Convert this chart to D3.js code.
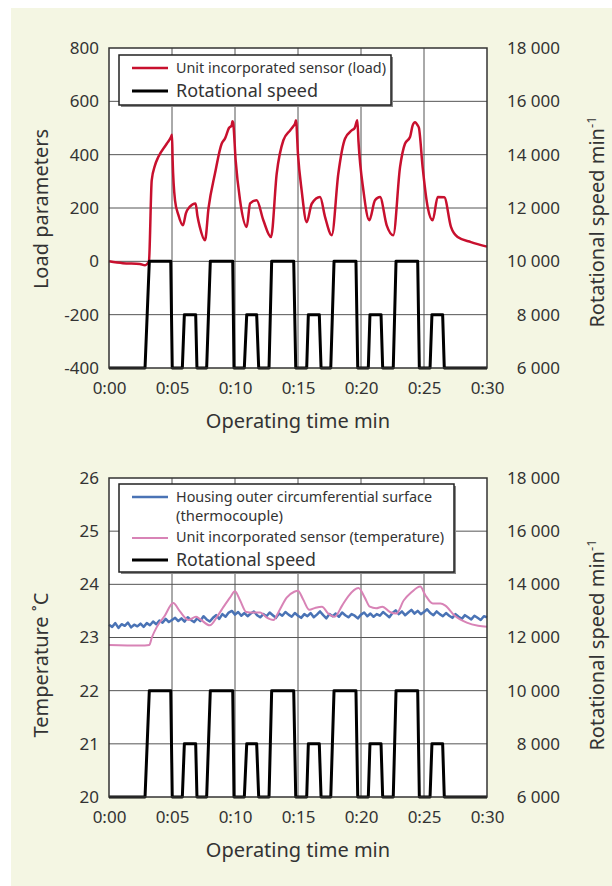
<!DOCTYPE html>
<html>
<head>
<meta charset="utf-8">
<script src="https://cdn.jsdelivr.net/npm/d3@7"></script>
<style>
  body { margin: 0; background: #fff; }
  text { font-family: "Noto Sans", sans-serif; fill: #333; }
</style>
</head>
<body>
<div id="chart"></div>
<script>
// time axis (minutes)
var timeTicks = [0, 5, 10, 15, 20, 25, 30];

// rotational speed, min^-1 (same schedule in both charts)
var speedTime = [0, 2.86, 3.2, 4.9, 5.02, 5.82, 5.98, 6.88, 6.98, 7.75, 8.04, 9.82, 9.92, 10.74,
  10.93, 11.72, 11.88, 12.7, 12.91, 14.66, 14.82, 15.69, 15.82, 16.69, 16.83, 17.6, 17.86, 19.6,
  19.74, 20.58, 20.71, 21.59, 21.72, 22.56, 22.78, 24.5, 24.63, 25.48, 25.63, 26.48, 26.61, 30];
var speedRpm = [6000, 6000, 10000, 10000, 6000, 6000, 8000, 8000, 6000, 6000, 10000, 10000, 6000, 6000,
  8000, 8000, 6000, 6000, 10000, 10000, 6000, 6000, 8000, 8000, 6000, 6000, 10000, 10000,
  6000, 6000, 8000, 8000, 6000, 6000, 10000, 10000, 6000, 6000, 8000, 8000, 6000, 6000];

// unit incorporated sensor (load)
var loadTime = [0, 1.1, 2.45, 2.86, 3.02, 3.17, 3.39, 3.65, 3.91, 4.58, 4.92, 5.0, 5.05, 5.24, 5.5, 5.87,
  6.1, 6.4, 6.87, 7.02, 7.2, 7.62, 7.9, 8.41, 8.94, 9.21, 9.52, 9.74, 9.79, 9.85, 10.05, 10.4, 10.93,
  11.2, 11.72, 12.25, 12.86, 13.31, 13.84, 14.37, 14.6, 14.76, 14.84, 15.0, 15.29, 15.69, 16.09, 16.75,
  17.15, 17.68, 18.2, 18.73, 19.26, 19.5, 19.71, 19.8, 20.19, 20.66, 21.11, 21.51, 22.04, 22.56, 23.1,
  23.49, 23.89, 24.1, 24.29, 24.5, 24.6, 24.89, 25.29, 25.69, 26.09, 26.61, 27.14, 27.67, 28.73, 30];
var loadValue = [0, -7, -10, -15, -10, 0, 304, 360, 391, 441, 466, 475, 380, 229, 175, 135,
  180, 204, 217, 170, 130, 79, 200, 329, 441, 461, 500, 510, 525, 520, 380, 229, 129,
  217, 229, 154, 91, 329, 454, 491, 505, 516, 529, 400, 266, 147, 216, 241,
  166, 98, 329, 460, 491, 500, 529, 450, 266, 154, 229, 241, 135, 98, 354,
  441, 466, 510, 522, 510, 500, 354, 204, 154, 241, 240, 129, 91, 72, 55];

// housing outer circumferential surface (thermocouple), every 0.25 min
var housingTemp = [
  23.24, 23.20, 23.27, 23.18, 23.25, 23.22, 23.28, 23.19, 23.24, 23.21, 23.26, 23.20,
  23.27, 23.23, 23.30, 23.25, 23.32, 23.28, 23.35, 23.29, 23.33, 23.37, 23.31, 23.36,
  23.30, 23.38, 23.33, 23.29, 23.36, 23.31, 23.40, 23.34, 23.30, 23.37, 23.42, 23.35,
  23.44, 23.39, 23.47, 23.50, 23.43, 23.48, 23.41, 23.46, 23.40, 23.45, 23.49, 23.42,
  23.38, 23.44, 23.40, 23.47, 23.42, 23.37, 23.45, 23.41, 23.48, 23.43, 23.39, 23.46,
  23.41, 23.37, 23.44, 23.40, 23.46, 23.38, 23.43, 23.49, 23.42, 23.36, 23.44, 23.40,
  23.45, 23.39, 23.47, 23.42, 23.38, 23.44, 23.41, 23.36, 23.43, 23.47, 23.40, 23.45,
  23.39, 23.44, 23.41, 23.48, 23.43, 23.38, 23.46, 23.51, 23.44, 23.49, 23.42, 23.47,
  23.52, 23.45, 23.50, 23.44, 23.48, 23.53, 23.46, 23.42, 23.49, 23.44, 23.40, 23.46,
  23.41, 23.37, 23.44, 23.39, 23.35, 23.42, 23.38, 23.34, 23.41, 23.37, 23.33, 23.40,
  23.38];

// unit incorporated sensor (temperature)
var sensorTime = [0, 2.5, 3.2, 3.4, 3.8, 4.4, 5.1, 5.6, 6.3, 6.9, 7.2, 8.0, 8.6, 9.1, 9.6, 10.0, 10.4,
  10.9, 11.4, 12.0, 12.5, 13.05, 13.5, 14.1, 14.7, 15.0, 15.4, 15.9, 16.4, 16.9, 17.4, 17.9, 18.5,
  19.0, 19.8, 20.3, 20.7, 21.2, 21.7, 22.3, 22.8, 23.4, 24.0, 24.7, 25.1, 25.7, 26.3, 26.7, 27.4,
  28.4, 29.3, 30];
var sensorTemp = [22.86, 22.85, 22.86, 23.0, 23.2, 23.4, 23.65, 23.5, 23.33, 23.39, 23.35, 23.23, 23.4,
  23.58, 23.75, 23.87, 23.7, 23.48, 23.47, 23.47, 23.38, 23.33, 23.5, 23.75, 23.86, 23.88, 23.72,
  23.52, 23.56, 23.58, 23.45, 23.39, 23.6, 23.78, 23.93, 23.75, 23.58, 23.55, 23.58, 23.48, 23.45,
  23.7, 23.85, 23.96, 23.8, 23.64, 23.64, 23.6, 23.42, 23.28, 23.22, 23.2];

var loadTicks = [-400, -200, 0, 200, 400, 600, 800];
var tempTicks = [20, 21, 22, 23, 24, 25, 26];
var speedTicks = [6000, 8000, 10000, 12000, 14000, 16000, 18000];

var W = 612, H = 886;
var svg = d3.select("#chart").append("svg")
  .attr("width", W).attr("height", H);

svg.append("rect")
  .attr("x", 11).attr("y", 8).attr("width", W - 11).attr("height", H - 8)
  .style("fill", "#f4f6e3");

var fmtTime = function(d) { return "0:" + (d < 10 ? "0" + d : d); };
var fmtSpeed = function(d) { return d3.format(",")(d).replace(",", " "); };
var fmtLeft = function(d) { return String(d); };

function drawPanel(p) {
  var x = d3.scaleLinear().domain([0, 30]).range([109, 487]);
  var yL = d3.scaleLinear().domain(p.leftDomain).range([p.bottom, p.top]);
  var yR = d3.scaleLinear().domain([6000, 18000]).range([p.bottom, p.top]);
  var g = svg.append("g");

  g.append("rect")
    .attr("x", x(0)).attr("y", p.top)
    .attr("width", x(30) - x(0)).attr("height", p.bottom - p.top)
    .style("fill", "#fff");

  // grid
  g.selectAll(".vgrid").data(timeTicks.slice(1, -1)).enter().append("line")
    .attr("x1", function(d) { return x(d); }).attr("x2", function(d) { return x(d); })
    .attr("y1", p.top).attr("y2", p.bottom)
    .style("stroke", "#555").style("stroke-width", 1);
  g.selectAll(".hgrid").data(p.leftTicks.slice(1, -1)).enter().append("line")
    .attr("x1", x(0)).attr("x2", x(30))
    .attr("y1", function(d) { return yL(d); }).attr("y2", function(d) { return yL(d); })
    .style("stroke", "#555").style("stroke-width", 1);

  // series
  p.series.forEach(function(s) {
    var yy = s.right ? yR : yL;
    g.append("path")
      .datum(d3.range(s.t.length))
      .attr("d", d3.line()
        .curve(s.smooth ? d3.curveMonotoneX : d3.curveLinear)
        .x(function(i) { return x(s.t[i]); })
        .y(function(i) { return yy(s.v[i]); }))
      .style("fill", "none")
      .style("stroke", s.color)
      .style("stroke-width", s.width)
      .style("stroke-linejoin", "round");
  });

  g.append("rect")
    .attr("x", x(0)).attr("y", p.top)
    .attr("width", x(30) - x(0)).attr("height", p.bottom - p.top)
    .style("fill", "none").style("stroke", "#333").style("stroke-width", 1.5);

  // axes
  var ax = g.append("g").attr("transform", "translate(0," + p.bottom + ")")
    .call(d3.axisBottom(x).tickValues(timeTicks).tickFormat(fmtTime).tickSize(0).tickPadding(p.xPad));
  var al = g.append("g").attr("transform", "translate(" + x(0) + ",0)")
    .call(d3.axisLeft(yL).tickValues(p.leftTicks).tickFormat(fmtLeft).tickSize(0).tickPadding(10));
  var ar = g.append("g").attr("transform", "translate(560,0)")
    .call(d3.axisLeft(yR).tickValues(speedTicks).tickFormat(fmtSpeed).tickSize(0).tickPadding(0));
  [ax, al, ar].forEach(function(a) {
    a.select(".domain").remove();
    a.selectAll("text").style("font-size", "17px").style("fill", "#333")
      .style("font-family", "'Noto Sans', sans-serif");
  });

  g.append("text")
    .attr("x", 298).attr("y", p.bottom + 60)
    .attr("text-anchor", "middle")
    .style("font-size", "20px")
    .text("Operating time min");

  g.append("text")
    .attr("transform", "translate(48," + p.leftLabelY + ") rotate(-90)")
    .attr("text-anchor", "middle")
    .style("font-size", "20px")
    .text(p.leftLabel);

  var rt = g.append("text")
    .attr("transform", "translate(604," + p.rightLabelY + ") rotate(-90)")
    .attr("text-anchor", "middle")
    .style("font-size", "20px");
  rt.append("tspan").text("Rotational speed min");
  rt.append("tspan").attr("dy", -8).style("font-size", "13px").text("-1");

  // legend
  var L = p.legend;
  g.append("rect")
    .attr("x", L.x + 2).attr("y", L.y + 2).attr("width", L.w).attr("height", L.h)
    .style("fill", "#888");
  g.append("rect")
    .attr("x", L.x).attr("y", L.y).attr("width", L.w).attr("height", L.h)
    .style("fill", "#fff").style("stroke", "#222").style("stroke-width", 1.5);
  L.items.forEach(function(it) {
    if (it.color) {
      g.append("line")
        .attr("x1", L.x + 13).attr("x2", L.x + 49)
        .attr("y1", it.ly).attr("y2", it.ly)
        .style("stroke", it.color).style("stroke-width", it.width);
    }
    g.append("text")
      .attr("x", L.x + 57).attr("y", it.ty)
      .attr("textLength", it.len).attr("lengthAdjust", "spacingAndGlyphs")
      .style("font-size", it.size + "px")
      .text(it.label);
  });
}

drawPanel({
  top: 48, bottom: 368, xPad: 14,
  leftDomain: [-400, 800], leftTicks: loadTicks,
  leftLabel: "Load parameters", leftLabelY: 209, rightLabelY: 222,
  series: [
    {t: loadTime, v: loadValue, color: "#c8102e", width: 2.5, smooth: true},
    {t: speedTime, v: speedRpm, right: true, color: "#000", width: 3}
  ],
  legend: {x: 119, y: 55, w: 272, h: 50, items: [
    {label: "Unit incorporated sensor (load)", color: "#c8102e", width: 2.5, ly: 68, ty: 73, size: 15, len: 210},
    {label: "Rotational speed", color: "#000", width: 3, ly: 91, ty: 97, size: 18, len: 142}
  ]}
});

drawPanel({
  top: 478, bottom: 797, xPad: 14,
  leftDomain: [20, 26], leftTicks: tempTicks,
  leftLabel: "Temperature \u02daC", leftLabelY: 665, rightLabelY: 645,
  series: [
    {t: d3.range(housingTemp.length).map(function(i) { return i * 0.25; }), v: housingTemp, color: "#4a73b5", width: 2.5},
    {t: sensorTime, v: sensorTemp, color: "#d883b6", width: 2, smooth: true},
    {t: speedTime, v: speedRpm, right: true, color: "#000", width: 3}
  ],
  legend: {x: 119, y: 484, w: 335, h: 88, items: [
    {label: "Housing outer circumferential surface", color: "#4a73b5", width: 2.5, ly: 497, ty: 502, size: 15, len: 256},
    {label: "(thermocouple)", ly: 0, ty: 521, size: 15, len: 107},
    {label: "Unit incorporated sensor (temperature)", color: "#d883b6", width: 2, ly: 538, ty: 542, size: 15, len: 268},
    {label: "Rotational speed", color: "#000", width: 3, ly: 560, ty: 566, size: 18, len: 140}
  ]}
});
</script>
</body>
</html>
